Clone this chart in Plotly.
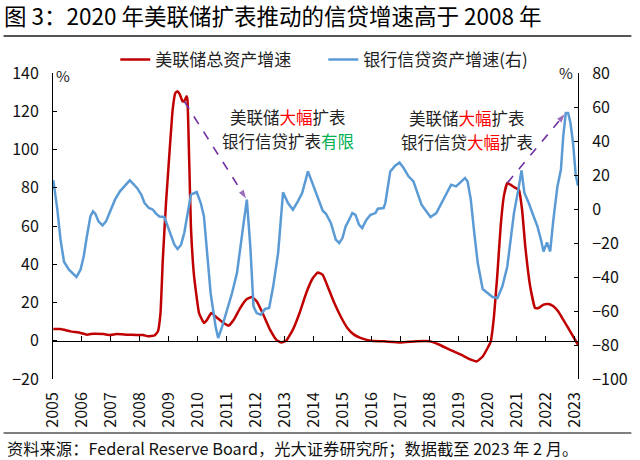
import plotly.graph_objects as go

# ---------------- data ----------------
title_text = "图 3：2020 年美联储扩表推动的信贷增速高于 2008 年"
source_text = "资料来源：Federal Reserve Board，光大证券研究所；数据截至 2023 年 2 月。"
fed_name = "美联储总资产增速"
bank_name = "银行信贷资产增速(右)"

year_ticks = list(range(2005, 2024))
year_labels = [str(y) for y in year_ticks]
left_ticks = [-20, 0, 20, 40, 60, 80, 100, 120, 140]
right_ticks = [-100, -80, -60, -40, -20, 0, 20, 40, 60, 80]

# Fed total assets growth, % (left axis)
fed_t = [2005.01, 2005.26, 2005.60, 2005.95, 2006.17, 2006.40, 2006.74, 2006.97, 2007.20, 2007.54,
         2007.88, 2008.11, 2008.28, 2008.51, 2008.62, 2008.71, 2008.79, 2008.90, 2009.02, 2009.13,
         2009.22, 2009.30, 2009.38, 2009.47, 2009.53, 2009.61, 2009.64, 2009.70, 2009.76, 2009.87,
         2010.04, 2010.21, 2010.32, 2010.46, 2010.67, 2010.89, 2011.06, 2011.24, 2011.46, 2011.69,
         2011.86, 2012.03, 2012.26, 2012.49, 2012.71, 2012.88, 2013.05, 2013.28, 2013.51, 2013.74,
         2013.97, 2014.14, 2014.31, 2014.48, 2014.71, 2014.93, 2015.16, 2015.39, 2015.61, 2015.96,
         2016.41, 2016.98, 2017.55, 2018.00, 2018.34, 2018.69, 2019.08, 2019.42, 2019.63, 2019.83,
         2020.00, 2020.11, 2020.22, 2020.34, 2020.45, 2020.56, 2020.68, 2020.79, 2020.96, 2021.08,
         2021.19, 2021.30, 2021.47, 2021.64, 2021.76, 2021.93, 2022.10, 2022.27, 2022.44, 2022.61,
         2022.78, 2022.95, 2023.12]
fed_v = [6.1, 6.1, 4.9, 4.1, 3.2, 3.7, 3.5, 3.0, 3.5, 3.2,
         3.0, 3.0, 2.3, 2.8, 4.9, 14.5, 42.4, 72.0, 98.2, 120.8,
         129.5, 130.4, 128.7, 125.2, 125.2, 127.8, 126.0, 94.7, 59.8, 33.6,
         14.5, 9.3, 11.0, 14.5, 11.9, 9.3, 7.9, 11.0, 17.1, 21.8,
         22.9, 20.6, 13.6, 5.8, 0.5, -0.9, 0.0, 5.8, 14.5, 25.0,
         32.8, 35.7, 34.5, 28.4, 19.7, 12.7, 6.7, 3.2, 1.5, 0.0,
         -0.3, -0.9, -0.3, -0.3, -2.1, -4.7, -7.3, -9.9, -10.8, -8.2,
         -3.8, -0.3, 12.7, 35.4, 59.8, 75.5, 82.5, 81.6, 79.9, 79.0,
         68.5, 49.3, 28.4, 17.1, 17.1, 18.9, 19.2, 18.0, 15.3, 11.0,
         6.7, 2.3, -2.1]

# Bank credit asset growth, % (right axis)
bank_t = [2005.01, 2005.15, 2005.26, 2005.38, 2005.55, 2005.66, 2005.81, 2005.95, 2006.06, 2006.17,
          2006.29, 2006.38, 2006.46, 2006.57, 2006.71, 2006.83, 2006.97, 2007.14, 2007.31, 2007.42,
          2007.54, 2007.65, 2007.76, 2007.90, 2008.05, 2008.16, 2008.31, 2008.45, 2008.54, 2008.67,
          2008.84, 2009.01, 2009.19, 2009.30, 2009.42, 2009.53, 2009.64, 2009.76, 2009.96, 2010.10,
          2010.21, 2010.32, 2010.44, 2010.61, 2010.70, 2010.84, 2011.01, 2011.18, 2011.35, 2011.46,
          2011.58, 2011.69, 2011.81, 2011.92, 2012.03, 2012.17, 2012.32, 2012.46, 2012.60, 2012.77,
          2012.94, 2013.11, 2013.28, 2013.45, 2013.60, 2013.80, 2013.97, 2014.14, 2014.31, 2014.42,
          2014.59, 2014.76, 2014.88, 2014.99, 2015.10, 2015.22, 2015.33, 2015.44, 2015.56, 2015.67,
          2015.82, 2015.96, 2016.13, 2016.21, 2016.41, 2016.47, 2016.64, 2016.81, 2016.96, 2017.10,
          2017.27, 2017.44, 2017.55, 2017.72, 2017.89, 2018.03, 2018.23, 2018.40, 2018.57, 2018.74,
          2018.91, 2019.08, 2019.22, 2019.31, 2019.42, 2019.54, 2019.66, 2019.83, 2020.00, 2020.17,
          2020.34, 2020.51, 2020.68, 2020.79, 2020.91, 2021.08, 2021.17, 2021.27, 2021.42, 2021.59,
          2021.72, 2021.84, 2021.93, 2022.05, 2022.16, 2022.27, 2022.41, 2022.53, 2022.61, 2022.70,
          2022.78, 2022.86, 2022.95, 2023.04, 2023.12]
bank_v = [17.0, -0.4, -18.0, -31.0, -35.7, -37.6, -40.0, -35.7, -28.0, -16.0,
          -4.4, -1.4, -2.8, -7.3, -9.7, -7.3, -1.4, 5.5, 10.4, 12.4,
          14.3, 16.8, 14.9, 12.4, 8.4, 3.5, 0.6, -0.4, -2.4, -4.4,
          -4.7, -12.2, -21.0, -23.5, -21.0, -14.1, -2.4, 8.4, 10.0, 3.5,
          -4.4, -25.9, -49.4, -69.0, -75.9, -69.0, -59.2, -49.4, -37.6, -22.0,
          -8.2, 5.5, -22.0, -57.3, -61.2, -62.2, -58.8, -58.2, -45.5, -25.9,
          9.8, 3.5, -0.4, 4.5, 9.4, 22.1, 14.3, 6.5, -1.0, -2.8,
          -8.2, -18.0, -20.0, -17.1, -10.2, -6.3, -2.4, -3.4, -9.2, -11.2,
          -6.3, -3.4, -2.4, 0.2, 0.6, 3.5, 22.1, 25.5, 27.4, 24.1,
          19.2, 16.2, 10.4, 2.5, -1.4, -4.7, -2.4, 3.5, 9.4, 14.3,
          13.3, 16.2, 18.2, 16.2, 5.5, -14.1, -31.8, -47.1, -49.4, -51.8,
          -52.4, -45.5, -33.8, -18.0, -2.4, 13.3, 22.7, 9.4, 3.5, -4.4,
          -10.2, -18.0, -25.0, -19.6, -25.0, -6.3, 13.3, 23.1, 42.7, 56.5,
          56.5, 50.6, 38.8, 20.2, 13.7]

# arrows: from a Fed point to a bank-credit point (dates looked up in the series)
arrow_pairs = [(2009.53, 2011.69), (2020.68, 2022.70)]

# ---------------- layout constants ----------------
W, H = 640, 460
PL, PR, PT, PB = 52, 583, 73, 379          # plot area in pixels
LEFT_RANGE = [-20, 140]
RIGHT_RANGE = [-100, 80]
X_RANGE = [2005.0, 2023.12]

RED = "#C00000"
BLUE = "#5B9BD5"
PURPLE = "#7030A0"
FONT = "Noto Sans CJK SC"


def px_x(px):
    return (px - PL) / (PR - PL)


def px_y(py):
    return (PB - py) / (PB - PT)


def right_to_left(v):
    return LEFT_RANGE[0] + (v - RIGHT_RANGE[0]) * (LEFT_RANGE[1] - LEFT_RANGE[0]) / (RIGHT_RANGE[1] - RIGHT_RANGE[0])


fig = go.Figure()

fig.add_trace(go.Scatter(x=fed_t, y=fed_v, name=fed_name, mode="lines",
                         line=dict(color=RED, width=2.5, shape="spline", smoothing=0.35),
                         yaxis="y", xaxis="x"))
fig.add_trace(go.Scatter(x=bank_t, y=bank_v, name=bank_name, mode="lines",
                         line=dict(color=BLUE, width=2.5),
                         yaxis="y2", xaxis="x"))

# dashed arrows
for t_from, t_to in arrow_pairs:
    i = min(range(len(fed_t)), key=lambda k: abs(fed_t[k] - t_from))
    j = min(range(len(bank_t)), key=lambda k: abs(bank_t[k] - t_to))
    x0, y0 = fed_t[i], fed_v[i]
    x1, y1 = bank_t[j], right_to_left(bank_v[j])
    fig.add_trace(go.Scatter(x=[x0, x1], y=[y0, y1], mode="lines+markers",
                             line=dict(color=PURPLE, width=1.6, dash="dash"),
                             marker=dict(symbol=["circle", "arrow"], size=[0, 11],
                                         angleref="previous", color=PURPLE),
                             showlegend=False, hoverinfo="skip", xaxis="x", yaxis="y"))

# helper trace so the zero-line x axis renders
fig.add_trace(go.Scatter(x=[fed_t[0]], y=[fed_v[0]], mode="none", showlegend=False,
                         hoverinfo="skip", xaxis="x2", yaxis="y"))

axis_font = dict(family=FONT, size=16, color="#111")

fig.update_layout(
    width=W, height=H,
    margin=dict(l=PL, r=W - PR, t=PT, b=H - PB, pad=0),
    paper_bgcolor="white", plot_bgcolor="white",
    font=dict(family=FONT, size=16, color="#111"),
    showlegend=True,
    legend=dict(orientation="h", x=px_x(115), xanchor="left", y=px_y(60), yanchor="middle",
                font=dict(family=FONT, size=17, color="#222"), bgcolor="rgba(0,0,0,0)",
                itemwidth=30, entrywidth=163, entrywidthmode="pixels"),
    title=dict(text=title_text, x=4 / W, xanchor="left", xref="container",
               y=1 - 17 / H, yanchor="middle", yref="container",
               font=dict(family=FONT, size=22.5, color="#000")),
    xaxis=dict(range=X_RANGE, tickmode="array", tickvals=year_ticks, ticktext=year_labels,
               tickangle=-90, showline=False, ticks="", showgrid=False, zeroline=False,
               tickfont=axis_font, ticklabelstandoff=9),
    xaxis2=dict(range=X_RANGE, overlaying="x", anchor="free",
                position=(0 - LEFT_RANGE[0]) / (LEFT_RANGE[1] - LEFT_RANGE[0]),
                tickmode="array", tickvals=year_ticks, showticklabels=False,
                showline=True, linecolor="#000", linewidth=1, ticks="inside", ticklen=5,
                tickcolor="#000", showgrid=False, zeroline=False),
    yaxis=dict(range=LEFT_RANGE, tickmode="array", tickvals=left_ticks, showline=True,
               linecolor="#000", linewidth=1, ticks="inside", ticklen=4, tickcolor="#000",
               showgrid=False, zeroline=False, tickfont=axis_font, ticklabelstandoff=10),
    yaxis2=dict(range=RIGHT_RANGE, overlaying="y", side="right", tickmode="array",
                tickvals=right_ticks, showline=True, linecolor="#000", linewidth=1,
                ticks="inside", ticklen=4, tickcolor="#000", showgrid=False, zeroline=False,
                tickfont=axis_font, ticklabelstandoff=10),
)

ann_font = dict(family=FONT, size=16.5, color="#222")
notes = [
    (290, 117, "美联储<span style='color:#FF0000'>大幅</span>扩表"),
    (290, 141, "银行信贷扩表<span style='color:#00B050'>有限</span>"),
    (471, 118, "美联储<span style='color:#FF0000'>大幅</span>扩表"),
    (471, 142, "银行信贷<span style='color:#FF0000'>大幅</span>扩表"),
]
for xp, yp, txt in notes:
    fig.add_annotation(x=px_x(xp), y=px_y(yp), xref="paper", yref="paper", text=txt,
                       showarrow=False, xanchor="center", yanchor="middle", font=ann_font)

# unit labels
fig.add_annotation(x=px_x(53), y=px_y(63), xref="paper", yref="paper", text="%",
                   showarrow=False, font=dict(family=FONT, size=15, color="#222"))
fig.add_annotation(x=px_x(580), y=px_y(60), xref="paper", yref="paper", text="%",
                   showarrow=False, font=dict(family=FONT, size=15, color="#222"))

# source note
fig.add_annotation(x=px_x(3), y=px_y(448), xref="paper", yref="paper", text=source_text,
                   showarrow=False, xanchor="left", yanchor="middle",
                   font=dict(family=FONT, size=16.3, color="#111"))

# rules under the title and above the source
fig.add_shape(type="line", xref="paper", yref="paper", x0=px_x(2), x1=px_x(637),
              y0=px_y(36), y1=px_y(36), line=dict(color="#555", width=2))
fig.add_shape(type="line", xref="paper", yref="paper", x0=px_x(2), x1=px_x(637),
              y0=px_y(433), y1=px_y(433), line=dict(color="#555", width=1.5))

fig.write_html("out.html", config={"displayModeBar": False},
               post_script="document.body.style.margin='0';document.body.style.overflow='hidden';")
